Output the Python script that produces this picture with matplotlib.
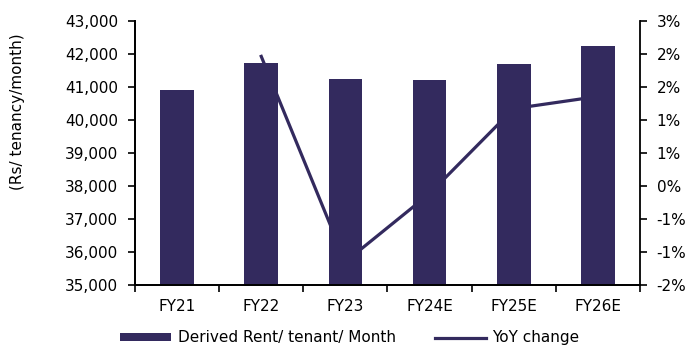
import matplotlib
matplotlib.use("Agg")
import matplotlib.pyplot as plt
from matplotlib.ticker import FuncFormatter, FixedLocator
import numpy as np

years = ["FY21", "FY22", "FY23", "FY24E", "FY25E", "FY26E"]
rent = [40900, 41720, 41245, 41205, 41690, 42245]
# YoY change in %, no value for the first year
yoy_years = ["FY22", "FY23", "FY24E", "FY25E", "FY26E"]
yoy = [2.33, -1.56, -0.27, 1.34, 1.57]

NAVY = "#332A5E"
plt.rcParams["font.family"] = ["DejaVu Sans"]
plt.rcParams["font.size"] = 11

fig = plt.figure(figsize=(6.87, 3.47), dpi=100)
ax = fig.add_axes([0.1965, 0.1787, 0.735, 0.7608])

x = np.arange(len(years))
bars = ax.bar(x, rent, width=0.4, color=NAVY, label="Derived Rent/ tenant/ Month", zorder=2)
ax.set_ylim(35000, 43000)
ax.set_xlim(-0.5, len(years) - 0.5)
ax.set_yticks(np.arange(35000, 43001, 1000))
ax.yaxis.set_major_formatter(FuncFormatter(lambda v, p: f"{int(v):,}"))
ax.set_xticks(x)
ax.set_xticklabels(years)
ax.xaxis.set_minor_locator(FixedLocator(np.arange(-0.5, len(years), 1.0)))
ax.tick_params(axis="x", which="major", length=0, pad=10)
ax.tick_params(axis="x", which="minor", length=5, width=1.2, direction="out")
ax.tick_params(axis="y", length=5, width=1.2, direction="out", pad=7)

ax2 = ax.twinx()
yx = [years.index(y) for y in yoy_years]
line, = ax2.plot(yx, yoy, color=NAVY, linewidth=2.3, label="YoY change", zorder=3)
ax2.set_ylim(-2, 3)
ax2.set_yticks(np.linspace(-2, 3, 9))
ax2.yaxis.set_major_formatter(FuncFormatter(lambda v, p: f"{int(np.floor(v + 0.5)) if abs(v) > 0.2 else 0}%"))
ax2.tick_params(axis="y", length=5, width=1.2, direction="out", pad=7)

for a in (ax, ax2):
    a.spines["top"].set_visible(False)
    for s in ("left", "right", "bottom"):
        a.spines[s].set_linewidth(1.3)
ax.spines["right"].set_visible(False)

fig.text(0.025, 0.677, "(Rs/ tenancy/month)", rotation=90, ha="center", va="center", fontsize=11)

fig.legend(handles=[bars, line], loc="lower left", bbox_to_anchor=(0.155, -0.035), ncol=2,
           frameon=False, handlelength=3.3, handleheight=0.5, columnspacing=2.6,
           handletextpad=0.45, fontsize=11)

fig.savefig("out.png", dpi=100)
